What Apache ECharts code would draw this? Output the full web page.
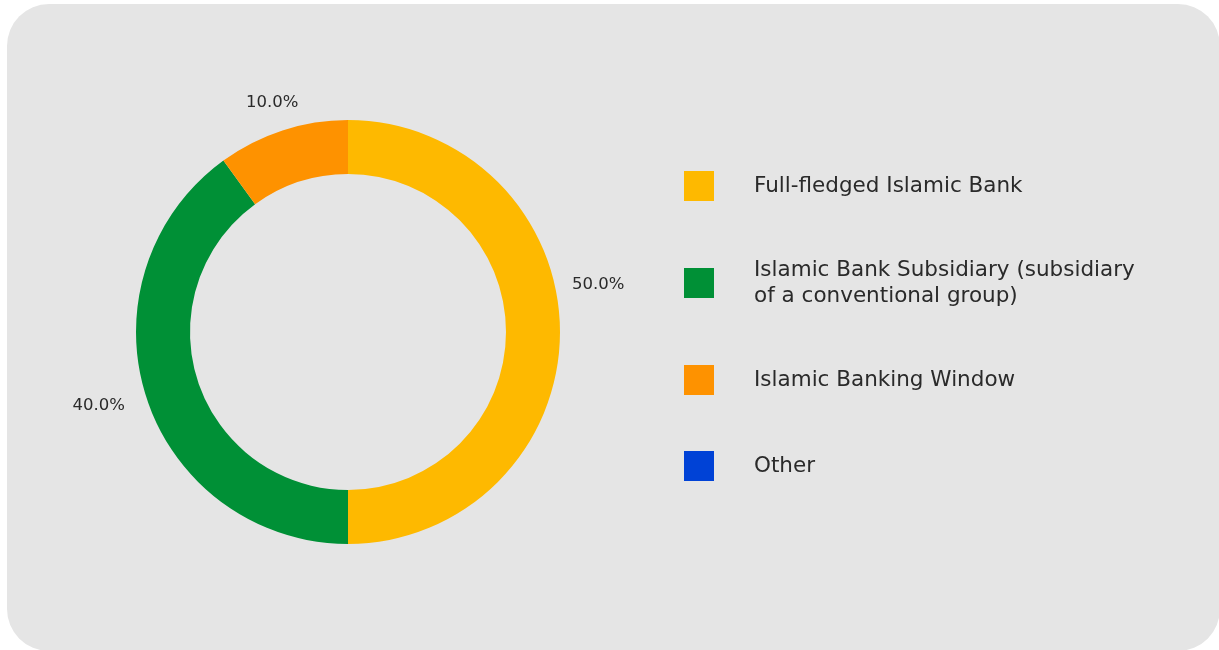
<!DOCTYPE html>
<html>
<head>
<meta charset="utf-8">
<script src="https://cdn.jsdelivr.net/npm/echarts@6/dist/echarts.min.js"></script>
<style>
  html, body { margin: 0; padding: 0; background: #fff; }
  #bg { position: absolute; left: 7px; top: 4px; width: 1213px; height: 647px;
        background: #e5e5e5; border-radius: 42px; }
  #main { position: absolute; left: 0; top: 0; width: 1219px; height: 650px; }
</style>
</head>
<body>
<div id="bg"></div>
<div id="main"></div>
<script>
/* bank model shares (percent) */
let categories = [
    'Full-fledged Islamic Bank',
    'Islamic Bank Subsidiary (subsidiary of a conventional group)',
    'Islamic Banking Window',
    'Other'
];
let values = [50, 40, 10, 0];
let colors = ['#feb900', '#009036', '#fe9200', '#0042d6'];

// label nudges so the text sits where the original puts it
let labelShift = [[-7, -47], [-3, 5], [28, -18], [0, 0]];

function DonutChart(container){
    let _data = [];
    for (let i = 0; i < categories.length; i++){
        _data.push({name: categories[i], value: values[i], itemStyle: {color: colors[i]}});
    }
    let _option = {
        animation: false,
        textStyle: {fontFamily: 'DejaVu Sans'},
        legend: {
            orient: 'vertical',
            left: 679,
            top: 166,
            icon: 'rect',
            itemWidth: 30,
            itemHeight: 30,
            itemGap: 56,
            selectedMode: false,
            data: categories,
            formatter: function (name){
                return name.replace('(subsidiary of', '(subsidiary\nof');
            },
            textStyle: {
                fontFamily: 'DejaVu Sans',
                fontSize: 21.5,
                lineHeight: 26,
                color: '#2a2a2a',
                padding: [0, 0, 0, 35]
            }
        },
        series: [{
            type: 'pie',
            center: [348, 332],
            radius: [158, 212],
            startAngle: 90,
            clockwise: true,
            minShowLabelAngle: 0.5,
            emphasis: {disabled: true},
            label: {
                show: true,
                position: 'outside',
                fontFamily: 'DejaVu Sans',
                fontSize: 16.5,
                color: '#2a2a2a',
                formatter: function (p){
                    return p.percent.toFixed(1) + '%';
                }
            },
            labelLine: {show: false, length: 10, length2: 4},
            labelLayout: function (params){
                let s = labelShift[params.dataIndex];
                return {dx: s[0], dy: s[1]};
            },
            data: _data
        }]
    };
    let chart = echarts.init(container);
    chart.setOption(_option);
}

DonutChart(document.getElementById('main'));
</script>
</body>
</html>
